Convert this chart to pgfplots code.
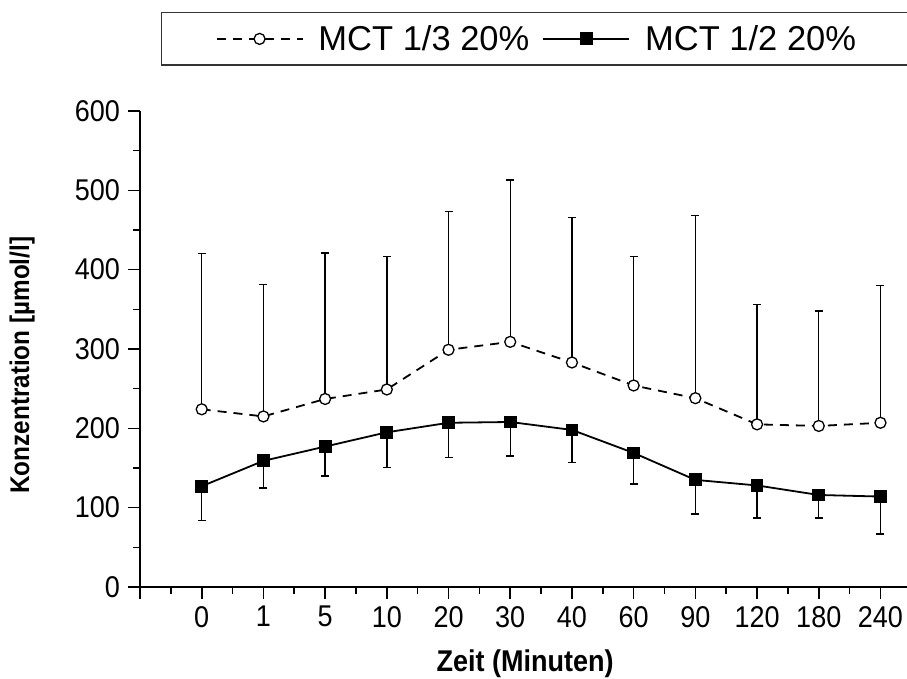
\documentclass[border=0pt]{standalone}
\usepackage{fontspec}
\setmainfont{Liberation Sans}
\newfontfamily\narrowfont{Liberation Sans}[FakeStretch=0.9]
\usepackage{pgfplots}
\pgfplotsset{compat=1.18}
\usetikzlibrary{calc}

\pgfplotstableread{
x y e
0 224 196
1 215 166
2 237 184
3 249 167.5
4 299 174
5 309 204
6 283 183
7 254 162.5
8 238 230
9 205 151
10 203 145
11 207 173
}\tabA

\pgfplotstableread{
x y e
0 127 43
1 159 34
2 177 37
3 195 44
4 207 44
5 208 43
6 198 41
7 169 39
8 135 43
9 128 41
10 116 29
11 114 47
}\tabB

\begin{document}
\begin{tikzpicture}
\begin{axis}[
  scale only axis,
  width=767pt, height=476pt,
  xmin=-1, xmax=11.43,
  ymin=0, ymax=600,
  axis lines*=left,
  axis line style={line width=1.8pt, black},
  xtick={-1,0,...,11},
  xticklabels={,0,1,5,10,20,30,40,60,90,120,180,240},
  ytick={0,100,...,600},
  minor x tick num=1, minor y tick num=1,
  tick align=outside,
  major tick length=12pt, minor tick length=7pt,
  tick style={line width=1.6pt, black},
  /pgf/number format/assume math mode=true,
  ticklabel style={font=\narrowfont\fontsize{30}{36}\selectfont},
  xticklabel style={anchor=north, inner sep=0pt, yshift=-7pt},
  yticklabel style={anchor=east, inner sep=0pt, xshift=-8pt},
  xlabel={\narrowfont\fontsize{30}{36}\selectfont\bfseries Zeit (Minuten)},
  ylabel={\narrowfont\fontsize{27}{32}\selectfont\bfseries Konzentration [µmol/l]},
  xlabel style={at={(axis description cs:0.502,-0.1775)}, anchor=base, inner sep=0pt},
  ylabel style={at={(axis description cs:-0.1538,0.466)}, anchor=center, inner sep=0pt},
  legend columns=2,
  legend style={at={(0.0274,1.208)}, anchor=north west, draw=black!80, line width=1.3pt,
    inner xsep=54pt, inner ysep=13pt, font=\fontsize{34.5}{40}\selectfont,
    nodes={inner sep=0pt},
    /tikz/every odd column/.append style={column sep=15pt},
    /tikz/every even column/.append style={column sep=13pt}},
  legend image code/.code={\draw[mark repeat=2,mark phase=2,#1] plot coordinates {(0pt,0pt) (43pt,0pt) (86pt,0pt)};},
]
\coordinate (O) at (rel axis cs:0,0);
\addplot[black, line width=1.8pt, dash pattern=on 9pt off 7pt,
  mark=*, mark size=5.5pt, mark options={solid, fill=white, draw=black, line width=1.3pt},
  error bars/.cd, y dir=plus, y explicit,
  error bar style={black, solid, line width=1.4pt},
  error mark options={black, solid, mark size=4pt, line width=1.4pt, rotate=90}]
  table[x=x, y=y, y error=e] {\tabA};
\addlegendentry{MCT 1/3 20\%}
\addplot[black, line width=1.8pt, solid,
  mark=square*, mark size=5.5pt, mark options={solid, fill=black, draw=black},
  error bars/.cd, y dir=minus, y explicit,
  error bar style={black, solid, line width=1.4pt},
  error mark options={black, solid, mark size=4pt, line width=1.4pt, rotate=90}]
  table[x=x, y=y, y error=e] {\tabB};
\addlegendentry{MCT 1/2 20\%}
\end{axis}
\pgfresetboundingbox
\path ($(O)+(-140pt,-92pt)$) rectangle ++(907pt,679pt);
\end{tikzpicture}
\end{document}
